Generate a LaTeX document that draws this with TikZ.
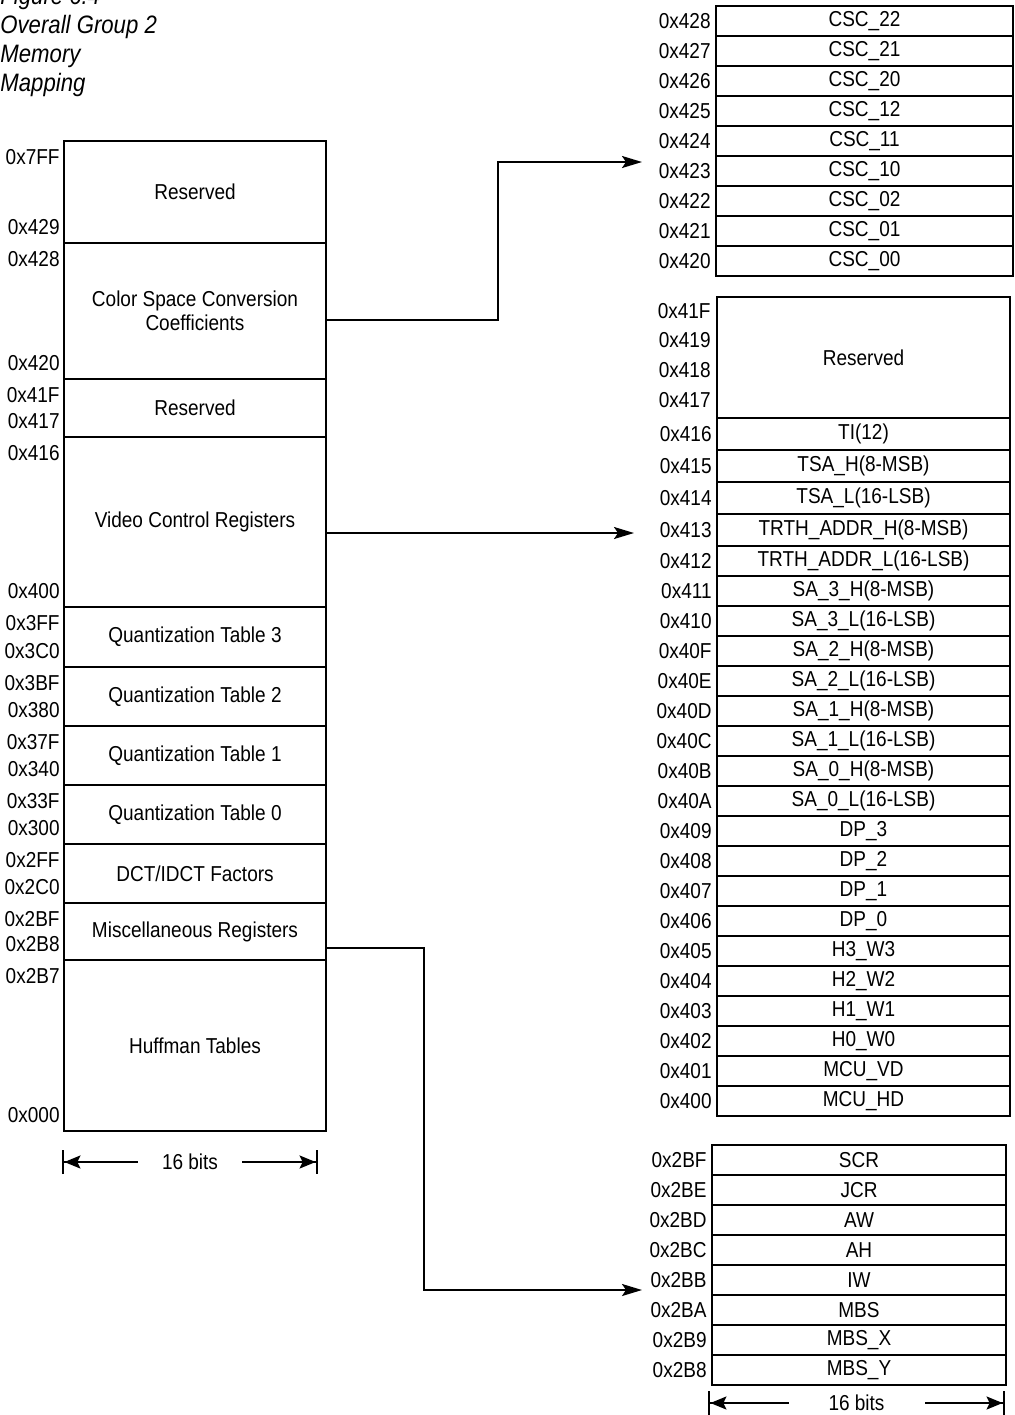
\documentclass[tikz,border=0pt]{standalone}
\usepackage{fontspec}
\setmainfont[FakeStretch=0.88]{Liberation Sans}
\usetikzlibrary{positioning,arrows.meta}

\tikzset{
  sect/.style={draw, line width=1pt, minimum width=131pt, inner sep=0pt,
    align=center, font=\fontsize{10.8}{12.2}\selectfont},
  reg/.style={draw, line width=1pt, minimum height=15pt, inner sep=0pt,
    font=\fontsize{10.8}{12.2}\selectfont},
  addr/.style={inner sep=1pt, font=\fontsize{10.8}{12.2}\selectfont},
  conn/.style={line width=1pt, -{Stealth[length=10pt,width=6pt,inset=2pt]}},
  dim/.style={line width=0.9pt,
    {Bar[width=12pt,line width=1.2pt]Stealth[length=8pt,width=6.5pt,inset=1.5pt]}-{Stealth[length=8pt,width=6.5pt,inset=1.5pt]Bar[width=12pt,line width=1.2pt]}},
  title/.style={inner sep=0pt, anchor=base west,
    font=\fontsize{12.6}{14.5}\selectfont\itshape}
}

\begin{document}
\begin{tikzpicture}[x=0.5pt,y=-0.5pt]
  \useasboundingbox (0,0) rectangle (1015,1415);

  % caption
  \foreach \y/\txt [count=\n] in {4/Figure 6.4,33/Overall Group 2,62/Memory,91/Mapping}
    \node[title] (ttl\n) at (0,\y) {\txt};

  % overall map
  \foreach \t/\b/\nm/\txt/\hi/\lo in {
      141/243/rsva/Reserved/0x7FF/0x429,
      243/379/csc/{Color Space Conversion\\Coefficients}/0x428/0x420,
      379/437/rsvb/Reserved/0x41F/0x417,
      437/607/vcr/Video Control Registers/0x416/0x400,
      607/667/qt3/Quantization Table 3/0x3FF/0x3C0,
      667/726/qt2/Quantization Table 2/0x3BF/0x380,
      726/785/qt1/Quantization Table 1/0x37F/0x340,
      785/844/qt0/Quantization Table 0/0x33F/0x300,
      844/903/dct/{DCT/IDCT Factors}/0x2FF/0x2C0,
      903/960/misc/Miscellaneous Registers/0x2BF/0x2B8,
      960/1131/huff/Huffman Tables/0x2B7/0x000} {
    \node[sect, minimum height={(\b-\t)*0.5pt}] (\nm) at (195,{(\t+\b)/2}) {\txt};
    \node[addr, anchor=east] (\nm hi) at ([shift={(-1,17)}]\nm.north west) {\hi};
    \node[addr, anchor=east] (\nm lo) at ([shift={(-1,-17)}]\nm.south west) {\lo};
  }
  \coordinate (bitsl) at (62,1162);
  \coordinate (bitsr) at (318,1162);
  \draw[dim] (bitsl) -- (bitsr)
    node[midway, fill=white, inner xsep=12pt, font=\fontsize{10.8}{12.2}\selectfont] (bits) {16 bits};

  % colour space conversion registers
  \foreach \a/\r [count=\n] in {0x428/22,0x427/21,0x426/20,0x425/12,0x424/11,
      0x423/10,0x422/02,0x421/01,0x420/00} {
    \node[reg, minimum width=148.5pt] (csc\n) at (864.5,{30*\n-9}) {CSC\_\r};
    \node[addr, left=1pt of csc\n] (csca\n) {\a};
  }

  % video control registers
  \node[reg, minimum width=146.5pt, minimum height=60.5pt] (vres) at (863.5,357.5) {Reserved};
  \foreach \a/\y in {0x41F/311,0x419/340,0x418/370,0x417/400}
    \node[addr, anchor=east] (vres\a) at (713,\y) {\a};
  \foreach \t/\b/\a/\txt [count=\n] in {
      418/450/0x416/TI(12),
      450/482/0x415/TSA\_H(8-MSB),
      482/514/0x414/TSA\_L(16-LSB),
      514/546/0x413/TRTH\_ADDR\_H(8-MSB),
      546/576/0x412/TRTH\_ADDR\_L(16-LSB),
      576/606/0x411/SA\_3\_H(8-MSB),
      606/636/0x410/SA\_3\_L(16-LSB),
      636/666/0x40F/SA\_2\_H(8-MSB),
      666/696/0x40E/SA\_2\_L(16-LSB),
      696/726/0x40D/SA\_1\_H(8-MSB),
      726/756/0x40C/SA\_1\_L(16-LSB),
      756/786/0x40B/SA\_0\_H(8-MSB),
      786/816/0x40A/SA\_0\_L(16-LSB),
      816/846/0x409/DP\_3,
      846/876/0x408/DP\_2,
      876/906/0x407/DP\_1,
      906/936/0x406/DP\_0,
      936/966/0x405/H3\_W3,
      966/996/0x404/H2\_W2,
      996/1026/0x403/H1\_W1,
      1026/1056/0x402/H0\_W0,
      1056/1086/0x401/MCU\_VD,
      1086/1116/0x400/MCU\_HD} {
    \node[reg, minimum width=146.5pt, minimum height={(\b-\t)*0.5pt}] (vc\n)
      at (863.5,{(\t+\b)/2}) {\txt};
    \node[addr, left=1pt of vc\n] (vca\n) {\a};
  }

  % miscellaneous registers
  \foreach \a/\txt [count=\n] in {0x2BF/SCR,0x2BE/JCR,0x2BD/AW,0x2BC/AH,
      0x2BB/IW,0x2BA/MBS,0x2B9/MBS\_X,0x2B8/MBS\_Y} {
    \node[reg, minimum width=147pt] (mr\n) at (859,{1130+30*\n}) {\txt};
    \node[addr, left=1pt of mr\n] (mra\n) {\a};
  }
  \coordinate (mbitsl) at (708,1403);
  \coordinate (mbitsr) at (1005,1403);
  \draw[dim] (mbitsl) -- (mbitsr)
    node[midway, fill=white, inner xsep=20pt, font=\fontsize{10.8}{12.2}\selectfont] (mbits) {16 bits};

  % connectors
  \coordinate (cscin) at (642,162);
  \coordinate (vcrin) at (634,533);
  \coordinate (miscin) at (642,1290);
  \draw[conn] (csc.east) ++(0,9) -- ++(171,0) |- (cscin);
  \draw[conn] (vcr.east) ++(0,11) -- (vcrin);
  \draw[conn] (misc.east) ++(0,16) -- ++(97,0) |- (miscin);
\end{tikzpicture}
\end{document}
